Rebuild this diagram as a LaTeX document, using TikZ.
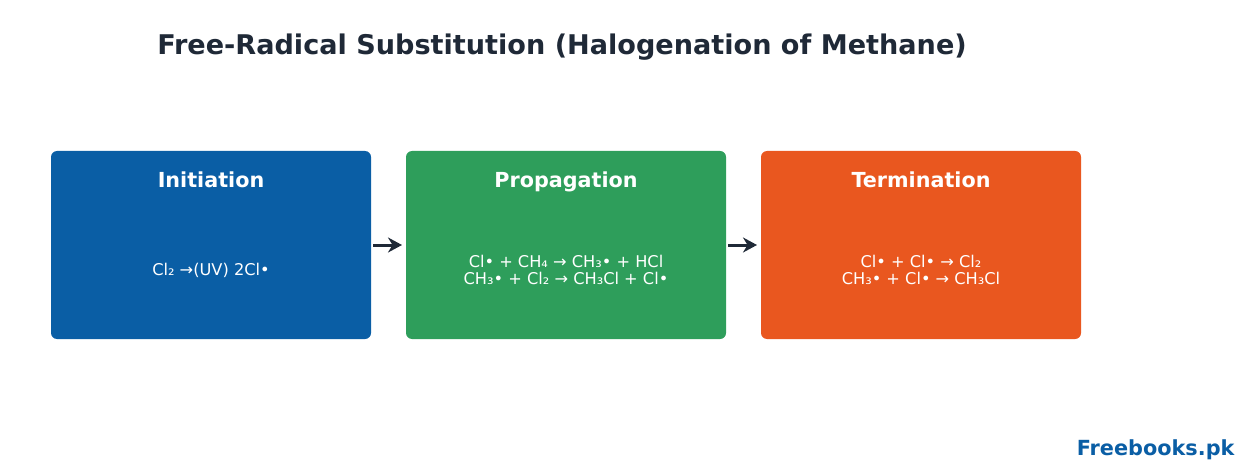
\documentclass[tikz,border=0pt]{standalone}
\usepackage{fontspec}
\setmainfont{DejaVu Sans}
\usetikzlibrary{arrows.meta}
\definecolor{cblue}{HTML}{0A5EA5}
\definecolor{cgreen}{HTML}{2E9E5B}
\definecolor{corange}{HTML}{E9571F}
\definecolor{cdark}{HTML}{1F2937}
\tikzset{
  stagebox/.style={fill=#1, rounded corners=6pt, draw=none},
  stagetitle/.style={text=white, font=\fontsize{20.7}{24}\selectfont\bfseries, anchor=base},
  stagebody/.style={text=white, font=\fontsize{16.2}{17}\selectfont, align=center, anchor=center},
  flow/.style={draw=cdark, line width=3pt, -{Stealth[length=14pt,width=15pt]}}
}
\begin{document}
\begin{tikzpicture}[x=1pt,y=-1pt]
\useasboundingbox (0,0) rectangle (1249,473);
\node[text=cdark, font=\fontsize{27.1}{32}\selectfont\bfseries] (title) at (562,47.5) {Free-Radical Substitution (Halogenation of Methane)};
\path[stagebox=cblue] (51,151) rectangle (371,339);
\path[stagebox=cgreen] (406,151) rectangle (726,339);
\path[stagebox=corange] (761,151) rectangle (1081,339);
\coordinate (b1r) at (371,245);
\coordinate (b2l) at (406,245);
\coordinate (b2r) at (726,245);
\coordinate (b3l) at (761,245);
\node[stagetitle] (t1) at (211,188) {Initiation};
\node[stagetitle] (t2) at (566,188) {Propagation};
\node[stagetitle] (t3) at (921,188) {Termination};
\node[stagebody] (e1) at (211,270) {Cl₂ →(UV) 2Cl•};
\node[stagebody] (e2) at (566,270) {Cl• + CH₄ → CH₃• + HCl\\CH₃• + Cl₂ → CH₃Cl + Cl•};
\node[stagebody] (e3) at (921,270) {Cl• + Cl• → Cl₂\\CH₃• + Cl• → CH₃Cl};
\draw[flow] ([xshift=2pt]b1r) -- ([xshift=-4pt]b2l);
\draw[flow] ([xshift=2pt]b2r) -- ([xshift=-4pt]b3l);
\node[text=cblue, font=\fontsize{20.8}{24}\selectfont\bfseries, anchor=east] (brand) at (1238,450) {Freebooks.pk};
\end{tikzpicture}
\end{document}
